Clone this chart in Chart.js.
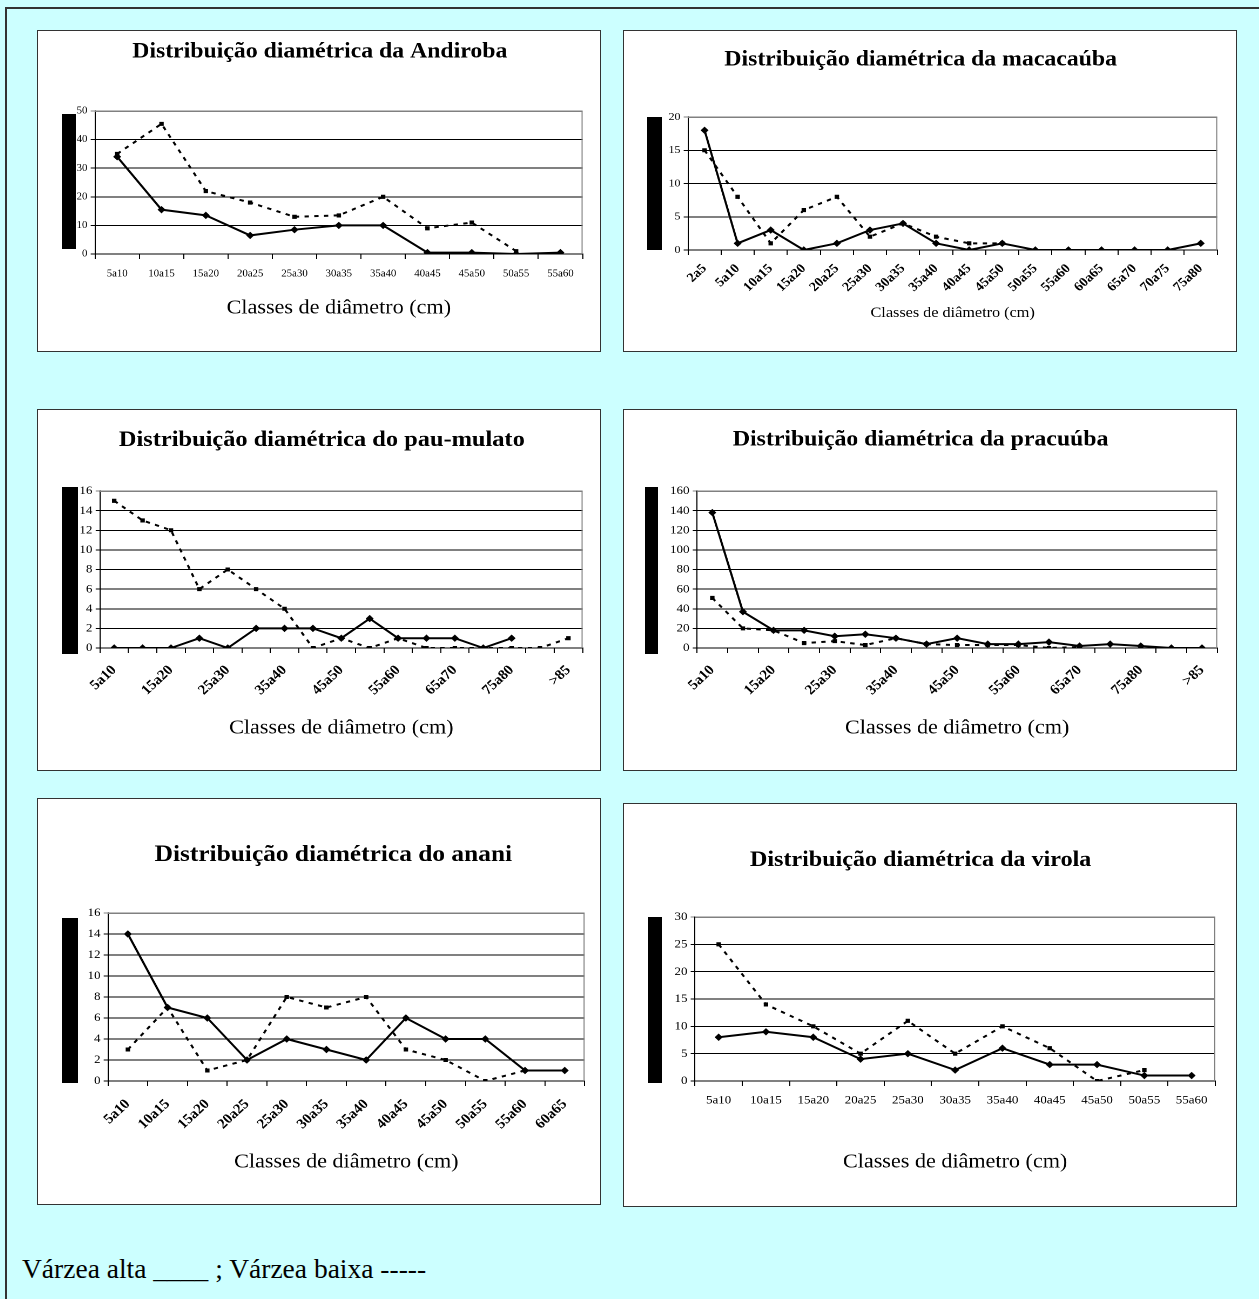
<!DOCTYPE html>
<html>
<head>
<meta charset="utf-8">
<script src="https://cdn.jsdelivr.net/npm/chart.js@4.4.1/dist/chart.umd.min.js"></script>
<style>
  html, body { margin:0; padding:0; background:#CCFFFF; width:1259px; height:1299px; overflow:hidden; }
  body { position:relative; font-family:"Liberation Serif","Times New Roman",serif; }
  #frame { position:absolute; left:5px; top:7px; width:1262px; height:1300px; border-top:2px solid #333; border-left:2px solid #333; }
  .panel { position:absolute; background:#fff; border:1.5px solid #333; box-sizing:border-box; }
  .bar { position:absolute; background:#000; }
  .wrap { position:absolute; transform-origin:0 0; }
  #legend { position:absolute; left:22px; top:1252px; font-size:27.5px; line-height:34px; color:#000; white-space:nowrap; }
</style>
</head>
<body>
<div id="frame"></div>
<div id="legend">Várzea alta ____ ; Várzea baixa -----</div>
<script>
// ---------- data ----------
const classes11 = ["5a10","10a15","15a20","20a25","25a30","30a35","35a40","40a45","45a50","50a55","55a60"];
const classes12 = ["5a10","10a15","15a20","20a25","25a30","30a35","35a40","40a45","45a50","50a55","55a60","60a65"];
const classes16 = ["2a5","5a10","10a15","15a20","20a25","25a30","30a35","35a40","40a45","45a50","50a55","55a60","60a65","65a70","70a75","75a80"];
const classes17 = ["5a10","10a15","15a20","20a25","25a30","30a35","35a40","40a45","45a50","50a55","55a60","60a65","65a70","70a75","75a80","80a85",">85"];

const andirobaAlta  = [34, 15.5, 13.5, 6.5, 8.5, 10, 10, 0.5, 0.5, 0, 0.5];
const andirobaBaixa = [35, 45.5, 22, 18, 13, 13.5, 20, 9, 11, 1, null];

const macacaubaAlta  = [18, 1, 3, 0, 1, 3, 4, 1, 0, 1, 0, 0, 0, 0, 0, 1];
const macacaubaBaixa = [15, 8, 1, 6, 8, 2, 4, 2, 1, 1, null, null, null, null, null, null];

const pauMulatoAlta  = [0, 0, 0, 1, 0, 2, 2, 2, 1, 3, 1, 1, 1, 0, 1, null, null];
const pauMulatoBaixa = [15, 13, 12, 6, 8, 6, 4, 0, 1, 0, 1, 0, 0, 0, 0, 0, 1];

const pracuubaAlta  = [138, 37, 18, 18, 12, 14, 10, 4, 10, 4, 4, 6, 2, 4, 2, 0, 0];
const pracuubaBaixa = [51, 20, 18, 5, 7, 3, 10, 4, 3, 3, 3, 0, 1, null, null, null, null];

const ananiAlta  = [14, 7, 6, 2, 4, 3, 2, 6, 4, 4, 1, 1];
const ananiBaixa = [3, 7, 1, 2, 8, 7, 8, 3, 2, 0, 1, null];

const virolaAlta  = [8, 9, 8, 4, 5, 2, 6, 3, 3, 1, 1];
const virolaBaixa = [25, 14, 10, 5, 11, 5, 10, 6, 0, 2, null];

const xTitle = "Classes de diâmetro (cm)";
const serieAlta = "Várzea alta";
const serieBaixa = "Várzea baixa";

// ---------- drawing ----------
const S = 1.08;
const SERIF = '"Liberation Serif","Times New Roman",serif';

const plotFrame = {
  id: 'plotFrame',
  beforeDatasetsDraw(chart) {
    const { ctx, chartArea: a } = chart;
    ctx.save();
    ctx.strokeStyle = '#808080';
    ctx.lineWidth = 1;
    ctx.beginPath();
    ctx.moveTo(a.left, a.top + 0.5);
    ctx.lineTo(a.right - 0.5, a.top + 0.5);
    ctx.lineTo(a.right - 0.5, a.bottom);
    ctx.stroke();
    ctx.restore();
  }
};

function addPanel(spec) {
  const body = document.body;
  const p = document.createElement('div');
  p.className = 'panel';
  Object.assign(p.style, { left: spec.panel.x + 'px', top: spec.panel.y + 'px', width: spec.panel.w + 'px', height: spec.panel.h + 'px' });
  body.appendChild(p);

  const ox = spec.panel.x + 1, oy = spec.panel.y + 1;
  const W = spec.panel.w - 2, H = spec.panel.h - 2;
  const cw = W / S, ch = H;

  const wrap = document.createElement('div');
  wrap.className = 'wrap';
  Object.assign(wrap.style, { left: ox + 'px', top: oy + 'px', width: cw + 'px', height: ch + 'px', transform: 'scaleX(' + S + ')' });
  const cv = document.createElement('canvas');
  cv.width = cw; cv.height = ch;
  wrap.appendChild(cv);
  body.appendChild(wrap);

  const bar = document.createElement('div');
  bar.className = 'bar';
  Object.assign(bar.style, { left: spec.bar.x + 'px', top: spec.bar.y + 'px', width: spec.bar.w + 'px', height: spec.bar.h + 'px' });
  body.appendChild(bar);

  const L = (spec.plot.l - ox) / S, R = (spec.plot.r - ox) / S;
  const T = spec.plot.t - oy, B = spec.plot.b - oy;
  const padRight = cw - R;
  // shift title centre by using left layout padding (y axis keeps the rest)
  const wantC = (spec.titleCX - ox) / S;
  const padLeft = Math.max(0, Math.min(L - 24, 2 * wantC - R));
  const axisW = L - padLeft;
  const tLH = spec.titleSize * 1.2;
  const tPadTop = spec.titleY - oy - tLH / 2;
  const tPadBot = T - tPadTop - tLH;
  const xLH = spec.xTitleSize * 1.2;
  const xPadBot = ch - (spec.xTitleY - oy) - xLH / 2;

  new Chart(cv, {
    type: 'line',
    data: {
      labels: spec.labels,
      datasets: [
        { label: serieAlta, data: spec.alta, borderColor: '#000', backgroundColor: '#000', borderWidth: 2,
          pointStyle: 'rectRot', pointRadius: 3, pointBorderWidth: 1, tension: 0, spanGaps: false },
        { label: serieBaixa, data: spec.baixa, borderColor: '#000', backgroundColor: '#000', borderWidth: 2,
          borderDash: [4, 5], pointStyle: 'rect', pointRadius: 2.2, pointBorderWidth: 1, tension: 0, spanGaps: false }
      ]
    },
    options: {
      responsive: false,
      animation: false,
      devicePixelRatio: 2,
      layout: { padding: { left: padLeft, right: padRight, top: 0, bottom: 0 } },
      plugins: {
        legend: { display: false },
        tooltip: { enabled: false },
        title: {
          display: true, text: spec.title, color: '#000',
          font: { family: SERIF, size: spec.titleSize, weight: 'bold', lineHeight: 1.2 },
          padding: { top: tPadTop, bottom: tPadBot }
        }
      },
      scales: {
        x: {
          type: 'category',
          offset: true,
          grid: { offset: true, drawOnChartArea: false, drawTicks: true, tickLength: 5, color: '#000' },
          border: { color: '#000', width: 1 },
          ticks: {
            autoSkip: false,
            maxRotation: spec.rot, minRotation: spec.rot,
            color: '#000',
            padding: spec.xTickPad,
            font: { family: SERIF, size: spec.xTickSize, weight: spec.rot ? 'bold' : 'normal' },
            callback: function (v, i) { return (spec.every && i % spec.every !== 0) ? '' : this.getLabelForValue(v); }
          },
          title: {
            display: true, text: xTitle, color: '#000',
            font: { family: SERIF, size: spec.xTitleSize, lineHeight: 1.2 },
            padding: { top: 0, bottom: xPadBot }
          },
          afterFit(sc) { sc.height = ch - B; }
        },
        y: {
          min: 0, max: spec.max,
          ticks: { stepSize: spec.step, color: '#000', padding: 3, font: { family: SERIF, size: spec.yTickSize } },
          grid: { color: c => (c.tick && c.tick.value === spec.max) ? '#808080' : '#000', tickLength: 4, drawTicks: true, lineWidth: 1 },
          border: { color: '#000', width: 1 },
          afterFit(sc) { sc.width = axisW; }
        }
      }
    },
    plugins: [plotFrame]
  });
}

addPanel({
  title: 'Distribuição diamétrica da Andiroba', labels: classes11, alta: andirobaAlta, baixa: andirobaBaixa,
  max: 50, step: 10,
  panel: { x: 37, y: 30, w: 564, h: 322 }, plot: { l: 95, r: 583, t: 111, b: 254 }, bar: { x: 62, y: 114, w: 14, h: 135 },
  titleCX: 320, titleY: 52, titleSize: 22, xTitleY: 308, xTitleSize: 20.5, yTickSize: 10, xTickSize: 10, xTickPad: 9, rot: 0, every: 0
});
addPanel({
  title: 'Distribuição diamétrica da macacaúba', labels: classes16, alta: macacaubaAlta, baixa: macacaubaBaixa,
  max: 20, step: 5,
  panel: { x: 623, y: 30, w: 614, h: 322 }, plot: { l: 688, r: 1218, t: 117, b: 250 }, bar: { x: 647, y: 117, w: 15, h: 133 },
  titleCX: 916, titleY: 60, titleSize: 22, xTitleY: 313, xTitleSize: 15, yTickSize: 11, xTickSize: 13, xTickPad: 6, rot: 45, every: 0
});
addPanel({
  title: 'Distribuição diamétrica do pau-mulato', labels: classes17, alta: pauMulatoAlta, baixa: pauMulatoBaixa,
  max: 16, step: 2,
  panel: { x: 37, y: 409, w: 564, h: 362 }, plot: { l: 100, r: 583, t: 491, b: 648 }, bar: { x: 62, y: 487, w: 16, h: 167 },
  titleCX: 322, titleY: 440, titleSize: 22.6, xTitleY: 728, xTitleSize: 20.5, yTickSize: 12, xTickSize: 14, xTickPad: 9, rot: 45, every: 2
});
addPanel({
  title: 'Distribuição diamétrica da pracuúba', labels: classes17, alta: pracuubaAlta, baixa: pracuubaBaixa,
  max: 160, step: 20,
  panel: { x: 623, y: 409, w: 614, h: 362 }, plot: { l: 697, r: 1218, t: 491, b: 648 }, bar: { x: 645, y: 487, w: 13, h: 167 },
  titleCX: 911, titleY: 440, titleSize: 22, xTitleY: 728, xTitleSize: 20.5, yTickSize: 12, xTickSize: 14, xTickPad: 9, rot: 45, every: 2
});
addPanel({
  title: 'Distribuição diamétrica do anani', labels: classes12, alta: ananiAlta, baixa: ananiBaixa,
  max: 16, step: 2,
  panel: { x: 37, y: 798, w: 564, h: 407 }, plot: { l: 108, r: 585, t: 913, b: 1081 }, bar: { x: 62, y: 918, w: 16, h: 165 },
  titleCX: 334, titleY: 855, titleSize: 23.5, xTitleY: 1162, xTitleSize: 20.5, yTickSize: 12, xTickSize: 14, xTickPad: 10, rot: 45, every: 0
});
addPanel({
  title: 'Distribuição diamétrica da virola', labels: classes11, alta: virolaAlta, baixa: virolaBaixa,
  max: 30, step: 5,
  panel: { x: 623, y: 803, w: 614, h: 404 }, plot: { l: 695, r: 1216, t: 917, b: 1081 }, bar: { x: 648, y: 917, w: 14, h: 166 },
  titleCX: 921, titleY: 860, titleSize: 22.3, xTitleY: 1162, xTitleSize: 20.5, yTickSize: 12, xTickSize: 12, xTickPad: 7, rot: 0, every: 0
});
</script>
</body>
</html>
